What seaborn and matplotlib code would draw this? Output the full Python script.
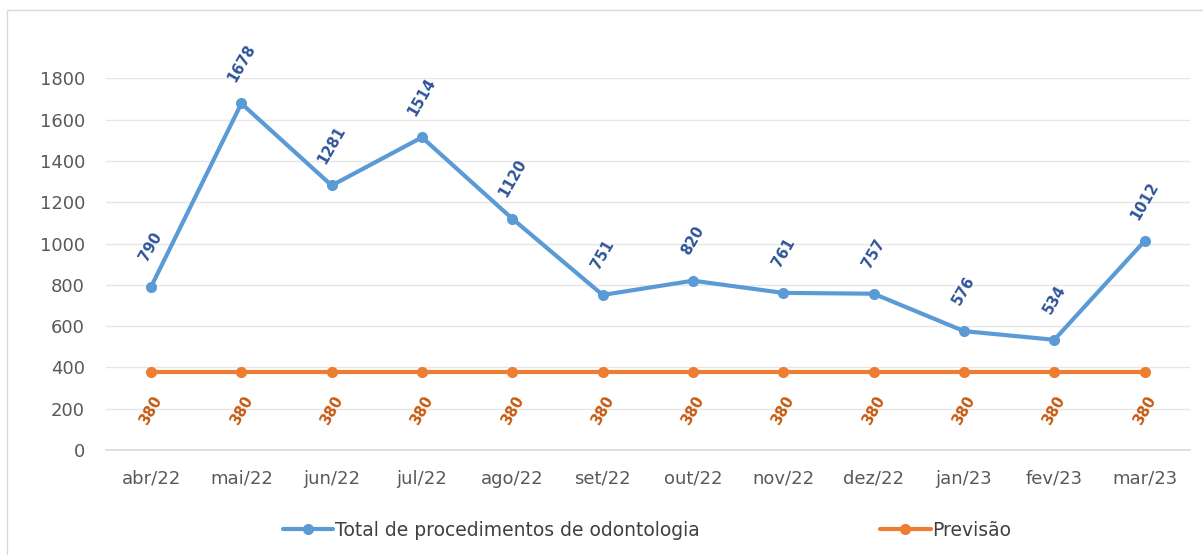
import pandas as pd
import numpy as np
import seaborn as sns
import matplotlib.pyplot as plt
from matplotlib.patches import Rectangle

# data
months = ['abr/22', 'mai/22', 'jun/22', 'jul/22', 'ago/22', 'set/22',
          'out/22', 'nov/22', 'dez/22', 'jan/23', 'fev/23', 'mar/23']
total = [790, 1678, 1281, 1514, 1120, 751, 820, 761, 757, 576, 534, 1012]
previsao = [380] * 12

df = pd.DataFrame({'mes': months, 'total': total, 'previsao': previsao})
df['pos'] = np.arange(len(months))

sns.set_style('white')
plt.rcParams['font.family'] = ['DejaVu Sans']

fig = plt.figure(figsize=(12.03, 5.55), dpi=100)
ax = fig.add_axes([0.088, 0.189, 0.901, 0.670])

blue = '#5B9BD5'
orange = '#ED7D31'

sns.lineplot(data=df, x='pos', y='total', ax=ax, color=blue, lw=3, marker='o',
             markersize=8, markeredgewidth=0, label='Total de procedimentos de odontologia',
             clip_on=False, zorder=4)
sns.lineplot(data=df, x='pos', y='previsao', ax=ax, color=orange, lw=3, marker='o',
             markersize=8, markeredgewidth=0, label='Previsão', clip_on=False, zorder=3)

# data labels
for x, v in zip(df['pos'], df['total']):
    ax.annotate(str(v), (x, v), xytext=(0, 29), textcoords='offset points',
                ha='center', va='center', rotation=60, color='#2F5597',
                fontsize=10.5, fontweight='bold', annotation_clip=False)
for x, v in zip(df['pos'], df['previsao']):
    ax.annotate(str(v), (x, v), xytext=(0, -28), textcoords='offset points',
                ha='center', va='center', rotation=60, color='#C55A11',
                fontsize=10.5, fontweight='bold', annotation_clip=False)

ax.set_xlim(-0.5, 11.5)
ax.set_ylim(0, 1800)
ax.set_yticks(range(0, 1801, 200))
ax.set_xticks(df['pos'])
ax.set_xticklabels(months)
ax.set_xticks(np.arange(-0.5, 12, 1), minor=True)
ax.tick_params(axis='x', which='major', length=0, pad=14, labelsize=13, colors='#595959')
ax.tick_params(axis='x', which='minor', length=6, width=1, color='#D9D9D9')
ax.tick_params(axis='y', length=0, pad=15, labelsize=13, colors='#595959')
ax.set_xlabel('')
ax.set_ylabel('')
ax.grid(axis='y', color='#E6E6E6', lw=1)
ax.set_axisbelow(True)
for s in ['top', 'right', 'left']:
    ax.spines[s].set_visible(False)
ax.spines['bottom'].set_color('#D9D9D9')
ax.spines['bottom'].set_linewidth(1.2)

ax.get_legend().remove()
handles, labels = ax.get_legend_handles_labels()
fig.legend(handles, labels, loc='center', bbox_to_anchor=(0.538, 0.045), ncol=2,
           frameon=False, fontsize=13.5, handlelength=2.7, handletextpad=0.1,
           columnspacing=9.6, labelcolor='#404040')

# chart border
fig.add_artist(Rectangle((7 / 1203, -0.1), 1.1, 1.1 - 10 / 555, transform=fig.transFigure,
                         fill=False, edgecolor='#D9D9D9', lw=1))

fig.savefig('out.png', dpi=100)
